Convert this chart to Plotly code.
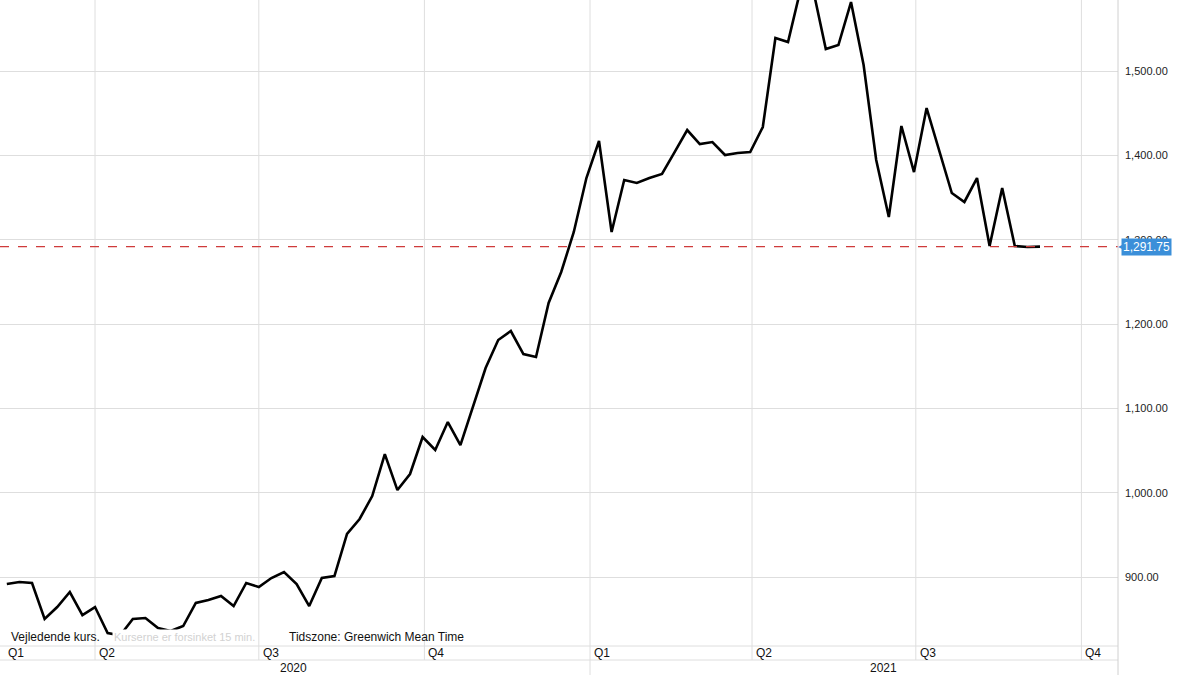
"""
Weekly closing price, Feb 2020 - Sep 2021, with last-price marker.
"""

import pandas as pd
import plotly.graph_objects as go

# weekly closes
start_date = "2020-02-12"
prices = [
    891.7, 894.1, 892.9, 850.2, 864.4, 882.2, 854.9, 864.4, 833.6, 831.0,
    850.2, 851.4, 839.5, 835.9, 841.9, 869.2, 872.7, 877.5, 865.6, 892.9,
    888.1, 898.8, 905.9, 891.7, 865.6, 898.8, 901.2, 951.0, 968.8, 996.0,
    1045.8, 1003.1, 1022.1, 1066.0, 1050.6, 1083.8, 1056.5, 1101.6, 1147.8, 1181.0,
    1191.7, 1164.4, 1160.9, 1224.9, 1261.7, 1309.1, 1373.1, 1417.0, 1309.1, 1370.7,
    1367.2, 1373.1, 1377.9, 1403.9, 1430.0, 1413.4, 1415.8, 1400.4, 1402.8, 1403.9,
    1433.6, 1539.1, 1534.4, 1597.0, 1596.0, 1526.1, 1530.8, 1581.8, 1507.1, 1394.5,
    1326.9, 1434.8, 1380.2, 1456.1, 1406.3, 1355.3, 1344.7, 1373.1, 1292.5, 1361.3,
    1292.5, 1291.3, 1291.75,
]
dates = pd.date_range(start_date, periods=len(prices), freq="7D")
last_price = 1291.75

quarter_starts = ["2020-01-01", "2020-04-01", "2020-07-01", "2020-10-01",
                  "2021-01-01", "2021-04-01", "2021-07-01", "2021-10-01"]
quarter_labels = ["Q1", "Q2", "Q3", "Q4", "Q1", "Q2", "Q3", "Q4"]
year_labels = ["2020", "2021"]
year_label_dates = ["2020-07-20", "2021-06-13"]
year_break = "2021-01-01"

y_ticks = [900, 1000, 1100, 1200, 1300, 1400, 1500]
x_range = ["2020-02-08 05:00", "2021-10-21 08:00"]
y_range = [818.2, 1584.2]

FONT = "Liberation Sans, Arial, sans-serif"
GRID = "#dedede"
TAG_BLUE = "#3b8fd9"

fig = go.Figure()

fig.add_trace(go.Scatter(
    x=dates,
    y=prices,
    mode="lines",
    line=dict(color="#000000", width=2.6),
    hoverinfo="x+y",
    showlegend=False,
))

# last price dashed line
fig.add_shape(type="line", xref="paper", x0=0, x1=1, yref="y",
              y0=last_price, y1=last_price,
              line=dict(color="#cf3b3b", width=1.1, dash="dash"))

# quarter gridlines, running down through the quarter row
band_q = -14 / 646
band_y = -29 / 646
for qs in quarter_starts[1:]:
    fig.add_shape(type="line", xref="x", yref="paper", x0=qs, x1=qs,
                  y0=1, y1=band_y if qs == year_break else band_q,
                  line=dict(color=GRID, width=1), layer="below")
fig.add_shape(type="line", xref="paper", yref="paper", x0=0, x1=1,
              y0=0, y1=0, line=dict(color=GRID, width=1))
fig.add_shape(type="line", xref="paper", yref="paper", x0=0, x1=1,
              y0=band_q, y1=band_q, line=dict(color=GRID, width=1))
fig.add_shape(type="line", xref="paper", yref="paper", x0=1, x1=1,
              y0=band_y, y1=1, line=dict(color="#d0d0d0", width=1))

# quarter labels, left aligned
for qs, lab in zip(quarter_starts, quarter_labels):
    pos = max(pd.Timestamp(qs), pd.Timestamp(x_range[0]))
    fig.add_annotation(x=pos, xref="x", y=-7 / 646, yref="paper",
                       text=lab, showarrow=False, xanchor="left", yanchor="middle",
                       xshift=6 if qs == quarter_starts[0] else 2,
                       font=dict(family=FONT, size=12, color="#111111"))

for d, lab in zip(year_label_dates, year_labels):
    fig.add_annotation(x=d, xref="x", y=-22 / 646, yref="paper",
                       text=lab, showarrow=False, xanchor="center", yanchor="middle",
                       font=dict(family=FONT, size=12, color="#111111"))

# footer note inside the plot
fig.add_annotation(x=0, xref="paper", xshift=9, y=9 / 646, yref="paper",
                   text="Vejledende kurs.", showarrow=False,
                   xanchor="left", yanchor="middle",
                   font=dict(family=FONT, size=12, color="#111111"))
fig.add_annotation(x=0, xref="paper", xshift=112, y=9 / 646, yref="paper",
                   text="Kurserne er forsinket 15 min.", showarrow=False,
                   xanchor="left", yanchor="middle", bgcolor="#ffffff",
                   font=dict(family=FONT, size=11, color="#d2d2d2"))
fig.add_annotation(x=0, xref="paper", xshift=287, y=9 / 646, yref="paper",
                   text="Tidszone: Greenwich Mean Time", showarrow=False,
                   xanchor="left", yanchor="middle",
                   font=dict(family=FONT, size=12, color="#111111"))

# last price tag on the axis
fig.add_annotation(x=1, xref="paper", xshift=3, y=last_price, yref="y",
                   text="1,291.75", showarrow=False, xanchor="left", yanchor="middle",
                   bgcolor=TAG_BLUE, borderpad=1,
                   font=dict(family=FONT, size=12, color="#ffffff"))
fig.add_annotation(x=1, xref="paper", xshift=-2, y=last_price, yref="y",
                   text="◀", showarrow=False, xanchor="left", yanchor="middle",
                   font=dict(family="DejaVu Sans", size=8, color=TAG_BLUE))

fig.update_layout(
    width=1200,
    height=675,
    margin=dict(l=0, r=82, t=0, b=29, pad=0),
    paper_bgcolor="#ffffff",
    plot_bgcolor="#ffffff",
    hovermode="closest",
    xaxis=dict(
        range=x_range,
        tickvals=quarter_starts,
        showticklabels=False,
        showgrid=False,
        zeroline=False,
        automargin=False,
        fixedrange=True,
    ),
    yaxis=dict(
        range=y_range,
        side="right",
        tickvals=y_ticks,
        tickformat=",.2f",
        ticks="",
        ticklabelstandoff=6,
        showgrid=True,
        gridcolor=GRID,
        gridwidth=1,
        zeroline=False,
        automargin=False,
        tickfont=dict(family=FONT, size=11, color="#222222"),
    ),
)

# drop the browser's default page margin so the figure sits at 0,0
fig.write_html("out.html", config={"displayModeBar": False},
               post_script="document.body.style.margin='0';")
